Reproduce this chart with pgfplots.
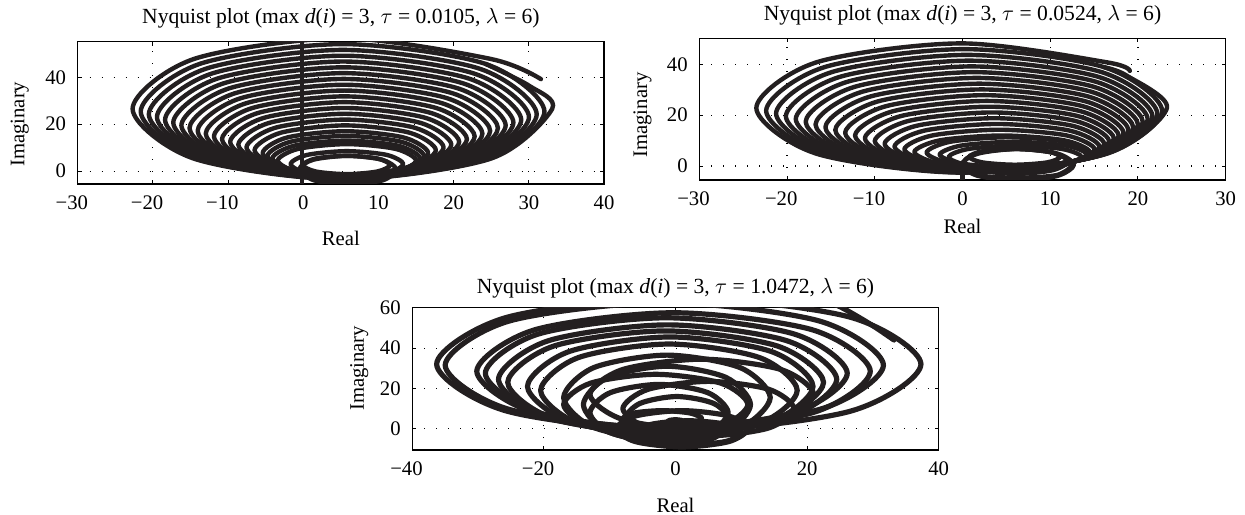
\documentclass[border=0pt]{standalone}
\usepackage{fontspec}
\setmainfont{Liberation Serif}
\usepackage{pgfplots}
\pgfplotsset{compat=1.18}
\definecolor{nqc}{RGB}{35,31,32}
\pgfplotsset{
  nqaxis/.style={
    scale only axis, width=263.2pt, height=71.15pt,
    axis line style={line width=0.7pt, black},
    tick align=inside, major tick length=2pt, tick style={line width=0.5pt, black},
    grid=major, major grid style={black, line width=0.55pt, dash pattern=on 0.55pt off 5.45pt},
    /pgf/number format/assume math mode=true,
    xticklabel style={yshift=-2.2pt}, yticklabel style={xshift=-2.2pt},
    title style={at={(axis description cs:0.5,1)}, anchor=base, font=\fontsize{10.8pt}{13pt}\selectfont},
    xlabel={Real}, ylabel={Imaginary},
    xlabel style={at={(axis description cs:0.5,0)}, anchor=base},
    ylabel style={anchor=center},
  },
  nq/.style={smooth cycle, color=nqc, line width=2.2pt, line join=round},
  nqo/.style={smooth, color=nqc, line width=2.2pt, line cap=round, line join=round},
  nql/.style={color=nqc, line width=2.2pt},
  nq3/.style={smooth cycle, color=nqc, line width=2.6pt, line join=round},
  nq3o/.style={smooth, color=nqc, line width=2.6pt, line cap=round, line join=round},
}
\begin{document}
\fontsize{10.35pt}{12.4pt}\selectfont
\begin{tikzpicture}
\path[use as bounding box] (0,0) rectangle (622.5pt,257pt);
% ---------------- plot 1
\begin{axis}[nqaxis, at={(38.85pt,165pt)}, anchor=south west,
  xmin=-30, xmax=40, ymin=-5.5, ymax=55.15,
  xtick={-30,-20,...,40}, xticklabels={\llap{−}30,\llap{−}20,\llap{−}10,0,10,20,30,40},
  ytick={0,20,40},
  title={Nyquist plot (max \textit{d}(\textit{i}) = 3, $\tau$ = 0.0105, $\lambda$ = 6)},
  title style={yshift=3.2pt},
  xlabel style={yshift=-31pt},
  ylabel style={at={(axis description cs:-0.110,0.420)}}]
\addplot[nq] coordinates {(16.6,7.75) (13.38,14.29) (5.6,17) (-2.18,14.29) (-5.4,7.75) (-2.18,1.21) (5.6,-1.5) (13.38,1.21)};
\addplot[nq] coordinates {(17.63,8.93) (14.1,16.39) (5.58,19.48) (-2.95,16.39) (-6.48,8.93) (-2.95,1.47) (5.58,-1.63) (14.1,1.47)};
\addplot[nq] coordinates {(18.66,10.1) (14.82,18.48) (5.55,21.95) (-3.72,18.48) (-7.56,10.1) (-3.72,1.72) (5.55,-1.75) (14.82,1.72)};
\addplot[nq] coordinates {(19.69,11.28) (15.55,20.58) (5.53,24.43) (-4.5,20.58) (-8.64,11.28) (-4.5,1.98) (5.53,-1.88) (15.55,1.98)};
\addplot[nq] coordinates {(20.73,12.45) (16.27,22.67) (5.5,26.9) (-5.27,22.67) (-9.73,12.45) (-5.27,2.23) (5.5,-2.0) (16.27,2.23)};
\addplot[nq] coordinates {(21.76,13.63) (16.99,24.76) (5.48,29.38) (-6.04,24.76) (-10.81,13.63) (-6.04,2.49) (5.48,-2.13) (16.99,2.49)};
\addplot[nq] coordinates {(22.79,14.8) (17.71,26.86) (5.45,31.85) (-6.81,26.86) (-11.89,14.8) (-6.81,2.74) (5.45,-2.25) (17.71,2.74)};
\addplot[nq] coordinates {(23.82,15.98) (18.43,28.95) (5.43,34.33) (-7.58,28.95) (-12.97,15.98) (-7.58,3.0) (5.43,-2.38) (18.43,3.0)};
\addplot[nq] coordinates {(24.85,17.15) (19.15,31.04) (5.4,36.8) (-8.35,31.04) (-14.05,17.15) (-8.35,3.26) (5.4,-2.5) (19.15,3.26)};
\addplot[nq] coordinates {(25.88,18.33) (19.88,33.14) (5.38,39.28) (-9.13,33.14) (-15.13,18.33) (-9.13,3.52) (5.38,-2.63) (19.88,3.52)};
\addplot[nq] coordinates {(26.91,19.5) (20.6,35.23) (5.35,41.75) (-9.9,35.23) (-16.21,19.5) (-9.9,3.77) (5.35,-2.75) (20.6,3.77)};
\addplot[nq] coordinates {(27.94,20.68) (21.32,37.33) (5.33,44.23) (-10.67,37.33) (-17.29,20.68) (-10.67,4.03) (5.33,-2.88) (21.32,4.03)};
\addplot[nq] coordinates {(28.98,21.85) (22.04,39.42) (5.3,46.7) (-11.44,39.42) (-18.38,21.85) (-11.44,4.28) (5.3,-3.0) (22.04,4.28)};
\addplot[nq] coordinates {(30.01,23.03) (22.77,41.52) (5.28,49.18) (-12.22,41.52) (-19.46,23.03) (-12.22,4.54) (5.28,-3.13) (22.77,4.54)};
\addplot[nq] coordinates {(31.04,24.2) (23.48,43.61) (5.25,51.65) (-12.98,43.61) (-20.54,24.2) (-12.98,4.79) (5.25,-3.25) (23.48,4.79)};
\addplot[nq] coordinates {(32.07,25.38) (24.21,45.71) (5.23,54.13) (-13.76,45.71) (-21.62,25.38) (-13.76,5.05) (5.23,-3.38) (24.21,5.05)};
\addplot[nqo] coordinates {(31.6,39.2) (24.93,47.8) (5.2,56.6) (-14.53,47.8) (-22.7,26.55) (-14.53,5.3) (5.2,-3.5) (24.93,5.3) (33.1,26.55) (30.03,36.38) (24.21,45.71)};
% loops round the hole
\addplot[nq] coordinates {(11.55,2.6) (9.85,5.36) (5.75,6.5) (1.65,5.36) (-0.05,2.6) (1.65,-0.16) (5.75,-1.3) (9.85,-0.16)};
\addplot[nq] coordinates {(12.3,1.0) (10.43,4.89) (5.9,6.5) (1.37,4.89) (-0.5,1.0) (1.37,-2.89) (5.9,-4.5) (10.43,-2.89)};
\addplot[nq] coordinates {(13.3,3) (11.1,6.89) (5.8,8.5) (0.5,6.89) (-1.7,3) (0.5,-0.89) (5.8,-2.5) (11.1,-0.89)};
\addplot[nq] coordinates {(15,4.5) (12.3,9.45) (5.8,11.5) (-0.7,9.45) (-3.4,4.5) (-0.7,-0.45) (5.8,-2.5) (12.3,-0.45)};
\addplot[nq] coordinates {(15.5,5.5) (12.63,10.8) (5.7,13) (-1.23,10.8) (-4.1,5.5) (-1.23,0.2) (5.7,-2) (12.63,0.2)};
\addplot[nq] coordinates {(16.05,6.5) (13,12.51) (5.65,15) (-1.7,12.51) (-4.75,6.5) (-1.7,0.49) (5.65,-2) (13,0.49)};
\addplot[nqo] coordinates {(-0.5,0) (1.5,-4) (6,-5.6) (10.5,-4) (12.5,0)};
\addplot[nql] coordinates {(-0.2,-6) (-0.2,56)};
\end{axis}
% ---------------- plot 2
\begin{axis}[nqaxis, at={(349.65pt,167pt)}, anchor=south west, height=70.85pt,
  xmin=-30, xmax=30, ymin=-5.5, ymax=50.2,
  xtick={-30,-20,...,30}, xticklabels={\llap{−}30,\llap{−}20,\llap{−}10,0,10,20,30},
  ytick={0,20,40},
  title={Nyquist plot (max \textit{d}(\textit{i}) = 3, $\tau$ = 0.0524, $\lambda$ = 6)},
  title style={yshift=3.0pt},
  xlabel style={yshift=-26.5pt},
  ylabel style={at={(axis description cs:-0.108,0.458)}}]
\addplot[nq] coordinates {(14.5,5.5) (11.57,10.1) (4.5,12) (-2.57,10.1) (-5.5,5.5) (-2.57,0.9) (4.5,-1) (11.57,0.9)};
\addplot[nq] coordinates {(15.05,6.58) (11.87,12.01) (4.21,14.26) (-3.45,12.01) (-6.63,6.58) (-3.45,1.15) (4.21,-1.1) (11.87,1.15)};
\addplot[nq] coordinates {(15.6,7.66) (12.19,13.93) (3.93,16.53) (-4.33,13.93) (-7.75,7.66) (-4.33,1.39) (3.93,-1.2) (12.19,1.39)};
\addplot[nq] coordinates {(16.15,8.74) (12.49,15.84) (3.64,18.79) (-5.21,15.84) (-8.88,8.74) (-5.21,1.64) (3.64,-1.3) (12.49,1.64)};
\addplot[nq] coordinates {(16.7,9.83) (12.79,17.77) (3.35,21.05) (-6.09,17.77) (-10,9.83) (-6.09,1.89) (3.35,-1.4) (12.79,1.89)};
\addplot[nq] coordinates {(17.25,10.91) (13.09,19.68) (3.06,23.31) (-6.97,19.68) (-11.13,10.91) (-6.97,2.14) (3.06,-1.5) (13.09,2.14)};
\addplot[nq] coordinates {(17.8,11.99) (13.4,21.6) (2.78,25.58) (-7.85,21.6) (-12.25,11.99) (-7.85,2.38) (2.78,-1.6) (13.4,2.38)};
\addplot[nq] coordinates {(18.35,13.07) (13.71,23.51) (2.49,27.84) (-8.73,23.51) (-13.38,13.07) (-8.73,2.63) (2.49,-1.7) (13.71,2.63)};
\addplot[nq] coordinates {(18.9,14.15) (14.01,25.43) (2.2,30.1) (-9.61,25.43) (-14.5,14.15) (-9.61,2.87) (2.2,-1.8) (14.01,2.87)};
\addplot[nq] coordinates {(19.45,15.23) (14.31,27.34) (1.91,32.36) (-10.49,27.34) (-15.63,15.23) (-10.49,3.12) (1.91,-1.9) (14.31,3.12)};
\addplot[nq] coordinates {(20,16.31) (14.62,29.26) (1.63,34.63) (-11.37,29.26) (-16.75,16.31) (-11.37,3.36) (1.63,-2) (14.62,3.36)};
\addplot[nq] coordinates {(20.55,17.39) (14.93,31.17) (1.34,36.89) (-12.25,31.17) (-17.88,17.39) (-12.25,3.61) (1.34,-2.1) (14.93,3.61)};
\addplot[nq] coordinates {(21.1,18.48) (15.23,33.1) (1.05,39.15) (-13.13,33.1) (-19,18.48) (-13.13,3.86) (1.05,-2.2) (15.23,3.86)};
\addplot[nq] coordinates {(21.65,19.56) (15.53,35.01) (0.76,41.41) (-14.01,35.01) (-20.13,19.56) (-14.01,4.11) (0.76,-2.3) (15.53,4.11)};
\addplot[nq] coordinates {(22.2,20.64) (15.84,36.93) (0.48,43.68) (-14.89,36.93) (-21.25,20.64) (-14.89,4.35) (0.48,-2.4) (15.84,4.35)};
\addplot[nq] coordinates {(22.75,21.72) (16.14,38.84) (0.19,45.94) (-15.76,38.84) (-22.38,21.72) (-15.76,4.6) (0.19,-2.5) (16.14,4.6)};
\addplot[nqo] coordinates {(19.07,37.37) (16.45,40.76) (-0.1,48.2) (-16.65,40.76) (-23.5,22.8) (-16.65,4.84) (-0.1,-2.6) (16.45,4.84) (23.3,22.8) (18.67,35.62) (16.14,38.84)};
% loops round the hole
\addplot[nq] coordinates {(11.15,3.6) (9.63,5.79) (5.95,6.7) (2.27,5.79) (0.75,3.6) (2.27,1.41) (5.95,0.5) (9.63,1.41)};
\addplot[nq] coordinates {(12,1.8) (10.27,5.26) (6.1,6.7) (1.93,5.26) (0.2,1.8) (1.93,-1.66) (6.1,-3.1) (10.27,-1.66)};
\addplot[nq] coordinates {(12.7,0.5) (10.83,4.88) (6.3,6.7) (1.77,4.88) (-0.1,0.5) (1.77,-3.88) (6.3,-5.7) (10.83,-3.88)};
\addplot[nq] coordinates {(13.6,3.5) (11.37,6.68) (6,8) (0.63,6.68) (-1.6,3.5) (0.63,0.32) (6,-1) (11.37,0.32)};
\addplot[nq] coordinates {(14.2,4.5) (11.74,8.04) (5.8,9.5) (-0.14,8.04) (-2.6,4.5) (-0.14,0.96) (5.8,-0.5) (11.74,0.96)};
\addplot[nq] coordinates {(14.5,5.3) (11.78,9.54) (5.2,11.3) (-1.38,9.54) (-4.1,5.3) (-1.38,1.06) (5.2,-0.7) (11.78,1.06)};
\addplot[nqo] coordinates {(0.3,1) (1.8,-1.2) (6,-2) (10.2,-1.2) (12,1)};
\addplot[nqo] coordinates {(0,0) (1.7,-3.6) (6.2,-4.6) (10.7,-3.6) (12.5,0)};
\addplot[nql] coordinates {(0,-6) (0,1.5)};
\end{axis}
% ---------------- plot 3
\begin{axis}[nqaxis, at={(206.15pt,32pt)}, anchor=south west,
  xmin=-40, xmax=40, ymin=-10.5, ymax=60,
  xtick={-40,-20,...,40}, xticklabels={\llap{−}40,\llap{−}20,0,20,40},
  ytick={0,20,40,60},
  title={Nyquist plot (max \textit{d}(\textit{i}) = 3, $\tau$ = 1.0472, $\lambda$ = 6)},
  title style={yshift=1.2pt},
  xlabel style={yshift=-31pt},
  ylabel style={at={(axis description cs:-0.101,0.574)}}]
\addplot[nq3] coordinates {(37.3,32) (26.52,55.33) (0.5,65) (-25.52,55.33) (-36.3,32) (-25.52,8.67) (0.5,-1) (26.52,8.67)};
\addplot[nq3] coordinates {(31.6,31.5) (21.85,53.42) (-1.7,62.5) (-25.25,53.42) (-35,31.5) (-25.25,9.58) (-1.7,0.5) (21.85,9.58)};
\addplot[nq3] coordinates {(29.6,28.5) (20.84,49.01) (-0.3,57.5) (-21.44,49.01) (-30.2,28.5) (-21.44,7.99) (-0.3,-0.5) (20.84,7.99)};
\addplot[nq3] coordinates {(26.1,27.5) (18.05,46.95) (-1.4,55) (-20.85,46.95) (-28.9,27.5) (-20.85,8.05) (-1.4,0) (18.05,8.05)};
\addplot[nq3] coordinates {(24.5,24.5) (16.97,43.59) (-1.2,51.5) (-19.37,43.59) (-26.9,24.5) (-19.37,5.41) (-1.2,-2.5) (16.97,5.41)};
\addplot[nq3] coordinates {(22.5,23) (15.47,41.03) (-1.5,48.5) (-18.47,41.03) (-25.5,23) (-18.47,4.97) (-1.5,-2.5) (15.47,4.97)};
\addplot[nq3] coordinates {(20.9,21) (14.54,38.32) (-0.8,45.5) (-16.14,38.32) (-22.5,21) (-16.14,3.68) (-0.8,-3.5) (14.54,3.68)};
\addplot[nq3] coordinates {(18.5,19) (12.79,35.26) (-1,42) (-14.79,35.26) (-20.5,19) (-14.79,2.74) (-1,-4) (12.79,2.74)};
\addplot[nq3] coordinates {(21,17) (16.02,29.37) (4,34.5) (-8.02,29.37) (-13,17) (-8.02,4.63) (4,-0.5) (16.02,4.63)};
\addplot[nq3] coordinates {(14.4,15.5) (9.8,30.35) (-1.3,36.5) (-12.4,30.35) (-17,15.5) (-12.4,0.65) (-1.3,-5.5) (9.8,0.65)};
\addplot[nq3] coordinates {(11.4,12) (7.68,25.43) (-1.3,31) (-10.28,25.43) (-14,12) (-10.28,-1.43) (-1.3,-7) (7.68,-1.43)};
\addplot[nq3] coordinates {(11,12) (6.9,22.61) (-3,27) (-12.9,22.61) (-17,12) (-12.9,1.39) (-3,-3) (6.9,1.39)};
\addplot[nq3] coordinates {(18,10) (14.19,19.55) (5,23.5) (-4.19,19.55) (-8,10) (-4.19,0.45) (5,-3.5) (14.19,0.45)};
\addplot[nq3] coordinates {(8,8) (4.92,17.9) (-2.5,22) (-9.92,17.9) (-13,8) (-9.92,-1.9) (-2.5,-6) (4.92,-1.9)};
\addplot[nq3] coordinates {(8.2,4) (5.86,12.49) (0.2,16) (-5.46,12.49) (-7.8,4) (-5.46,-4.49) (0.2,-8) (5.86,-4.49)};
\addplot[nq3] coordinates {(11,0) (8.07,6.36) (1,9) (-6.07,6.36) (-9,0) (-6.07,-6.36) (1,-9) (8.07,-6.36)};
\addplot[nq3] coordinates {(10,-2) (7.66,2.24) (2,4) (-3.66,2.24) (-6,-2) (-3.66,-6.24) (2,-8) (7.66,-6.24)};
\addplot[nq3] coordinates {(4,5) (2.24,7.83) (-2,9) (-6.24,7.83) (-8,5) (-6.24,2.17) (-2,1) (2.24,2.17)};
\addplot[nq3] coordinates {(1.2,3.5) (0.85,4.21) (0,4.5) (-0.85,4.21) (-1.2,3.5) (-0.85,2.79) (0,2.5) (0.85,2.79)};
\addplot[nq3o] coordinates {(33.2,44) (30.5,50) (28,55) (25,60.5) (23,63)};
\end{axis}
\end{tikzpicture}
\end{document}
